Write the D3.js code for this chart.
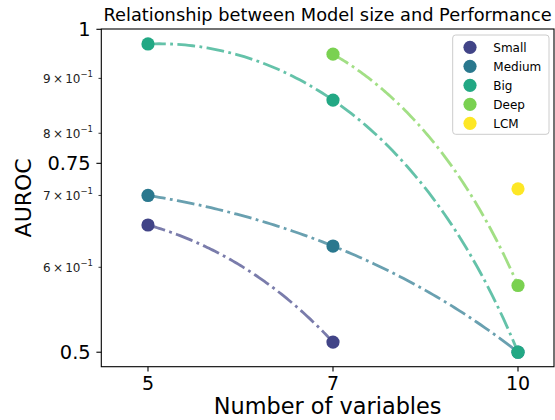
<html>
<head>
	<script src="https://d3js.org/d3.v7.min.js"></script>
	<style>
		body { margin: 0; background: #fff; }
		text { font-family: "DejaVu Sans", sans-serif; fill: #000; }
	</style>
</head>
<body>
	<script>
		// data
		var varCounts = [5, 7, 10];
		var sizeNames = ["Small", "Medium", "Big", "Deep", "LCM"];
		var sizeColors = ["#414487", "#2a788e", "#22a884", "#7ad151", "#fde725"];
		var smallX = [5, 7],      smallY = [0.657, 0.511];
		var mediumX = [5, 7, 10], mediumY = [0.700, 0.628, 0.500];
		var bigX = [5, 7, 10],    bigY = [0.969, 0.859, 0.500];
		var deepX = [7, 10],      deepY = [0.948, 0.577];
		var lcmX = [10],          lcmY = [0.710];
		var majorTicks = [0.5, 0.75, 1];
		var minorTicks = [0.6, 0.7, 0.8, 0.9];

		var series = [
			{ name: sizeNames[0], color: sizeColors[0], x: smallX, y: smallY },
			{ name: sizeNames[1], color: sizeColors[1], x: mediumX, y: mediumY },
			{ name: sizeNames[2], color: sizeColors[2], x: bigX, y: bigY },
			{ name: sizeNames[3], color: sizeColors[3], x: deepX, y: deepY },
			{ name: sizeNames[4], color: sizeColors[4], x: lcmX, y: lcmY }
		];

		var outerWidth = 555, outerHeight = 420;
		var margin = { left: 101.3, top: 29, right: 1, bottom: 53.3 };
		var innerWidth = outerWidth - margin.left - margin.right;
		var innerHeight = outerHeight - margin.top - margin.bottom;

		var svg = d3.select("body").append("svg")
			.attr("width", outerWidth)
			.attr("height", outerHeight);

		var g = svg.append("g")
			.attr("transform", "translate(" + margin.left + "," + margin.top + ")");

		// x positions are the category index of the variable count
		var xScale = d3.scaleLinear().domain([-0.2524, 2.1946]).range([0, innerWidth]);
		var yScale = d3.scaleLog().domain([0.4847, 1.00065]).range([innerHeight, 0]);
		var xPos = function(v) { return xScale(varCounts.indexOf(v)); };

		// quadratic fit like numpy.polyfit(deg=2), min-norm when fewer than 3 points
		function solve(M, b) {
			var n = b.length;
			var a = M.map(function(r, i) { return r.concat([b[i]]); });
			for (var i = 0; i < n; i++) {
				var p = i;
				for (var k = i + 1; k < n; k++) if (Math.abs(a[k][i]) > Math.abs(a[p][i])) p = k;
				var t = a[i]; a[i] = a[p]; a[p] = t;
				for (var k = i + 1; k < n; k++) {
					var f = a[k][i] / a[i][i];
					for (var j = i; j <= n; j++) a[k][j] -= f * a[i][j];
				}
			}
			var x = new Array(n);
			for (var i = n - 1; i >= 0; i--) {
				var s = a[i][n];
				for (var j = i + 1; j < n; j++) s -= a[i][j] * x[j];
				x[i] = s / a[i][i];
			}
			return x;
		}
		function polyfit2(xs, ys) {
			var cols = [xs.map(function(x) { return x * x; }), xs.slice(), xs.map(function() { return 1; })];
			var sc = cols.map(function(c) { return Math.sqrt(d3.sum(c, function(v) { return v * v; })); });
			var A = xs.map(function(_, i) { return cols.map(function(c, j) { return c[i] / sc[j]; }); });
			var M = A.map(function(r) { return A.map(function(s) { return d3.sum(r, function(v, k) { return v * s[k]; }); }); });
			var w = solve(M, ys);
			var u = [0, 1, 2].map(function(j) { return d3.sum(A, function(r, i) { return r[j] * w[i]; }); });
			return u.map(function(v, j) { return v / sc[j]; });
		}

		// axes frame + ticks
		var yTicksG = g.append("g");
		majorTicks.forEach(function(v) {
			var y = yScale(v);
			yTicksG.append("line").attr("x1", -4.9).attr("x2", 0).attr("y1", y).attr("y2", y)
				.attr("stroke", "#000").attr("stroke-width", 1.1);
			yTicksG.append("text").attr("x", -10.6).attr("y", y + 7)
				.attr("text-anchor", "end").style("font-size", "19.4px").text(d3.format("")(v));
		});
		minorTicks.forEach(function(v) {
			var y = yScale(v);
			yTicksG.append("line").attr("x1", -2.8).attr("x2", 0).attr("y1", y).attr("y2", y)
				.attr("stroke", "#000").attr("stroke-width", 0.8);
			var t = yTicksG.append("text").attr("x", -8.3).attr("y", y + 4.3)
				.attr("text-anchor", "end").style("font-size", "12px").style("fill", "#222");
			t.append("tspan").text(Math.round(v * 10));
			t.append("tspan").attr("dx", 2.2).text("\u00d7");
			t.append("tspan").attr("dx", 2.2).text("10");
			t.append("tspan").attr("dy", -5.5).style("font-size", "8.5px").text("\u22121");
		});

		var xTicksG = g.append("g").attr("transform", "translate(0," + innerHeight + ")");
		varCounts.forEach(function(v) {
			var x = xPos(v);
			xTicksG.append("line").attr("x1", x).attr("x2", x).attr("y1", 0).attr("y2", 4.9)
				.attr("stroke", "#000").attr("stroke-width", 1.1);
			xTicksG.append("text").attr("x", x).attr("y", 23.5)
				.attr("text-anchor", "middle").style("font-size", "19px").text(v);
		});

		// lines + markers
		var line = d3.line()
			.x(function(d) { return xScale(d[0]); })
			.y(function(d) { return yScale(d[1]); });

		series.forEach(function(s) {
			var idx = s.x.map(function(v) { return varCounts.indexOf(v); });
			if (idx.length > 1) {
				var c = polyfit2(idx, s.y);
				var x0 = d3.min(idx), x1 = d3.max(idx);
				var pts = d3.range(0, 101).map(function(i) {
					var x = x0 + (x1 - x0) * i / 100;
					return [x, c[0] * x * x + c[1] * x + c[2]];
				});
				g.append("path").datum(pts).attr("d", line)
					.attr("fill", "none").attr("stroke", s.color).attr("stroke-opacity", 0.7)
					.attr("stroke-width", 2.8).attr("stroke-dasharray", "17.8,4.4,2.8,4.4");
			}
			g.selectAll(null).data(s.x.map(function(v, i) { return [v, s.y[i]]; }))
				.enter().append("circle")
				.attr("cx", function(d) { return xPos(d[0]); })
				.attr("cy", function(d) { return yScale(d[1]); })
				.attr("r", 6.6)
				.attr("fill", s.color);
		});

		g.append("rect").attr("width", innerWidth).attr("height", innerHeight)
			.attr("fill", "none").attr("stroke", "#000").attr("stroke-width", 1.1);

		// legend
		var legend = svg.append("g").attr("transform", "translate(452.7,35)");
		legend.append("rect").attr("width", 96.3).attr("height", 99.3).attr("rx", 3)
			.attr("fill", "#fff").attr("fill-opacity", 0.8).attr("stroke", "#ccc").attr("stroke-width", 1);
		series.forEach(function(s, i) {
			var y = 12.3 + i * 19;
			legend.append("circle").attr("cx", 17.3).attr("cy", y).attr("r", 6.6).attr("fill", s.color);
			legend.append("text").attr("x", 40.6).attr("y", y + 4.3)
				.style("font-size", "12px").text(s.name);
		});

		// titles
		svg.append("text").attr("x", margin.left + innerWidth / 2).attr("y", 21)
			.attr("text-anchor", "middle").style("font-size", "17.8px")
			.text("Relationship between Model size and Performance");
		svg.append("text").attr("x", margin.left + innerWidth / 2).attr("y", 413.5)
			.attr("text-anchor", "middle").style("font-size", "22.4px").text("Number of variables");
		svg.append("text").attr("transform", "translate(31," + (margin.top + innerHeight / 2) + ") rotate(-90)")
			.attr("text-anchor", "middle").style("font-size", "22px").text("AUROC");
	</script>
</body>
</html>
